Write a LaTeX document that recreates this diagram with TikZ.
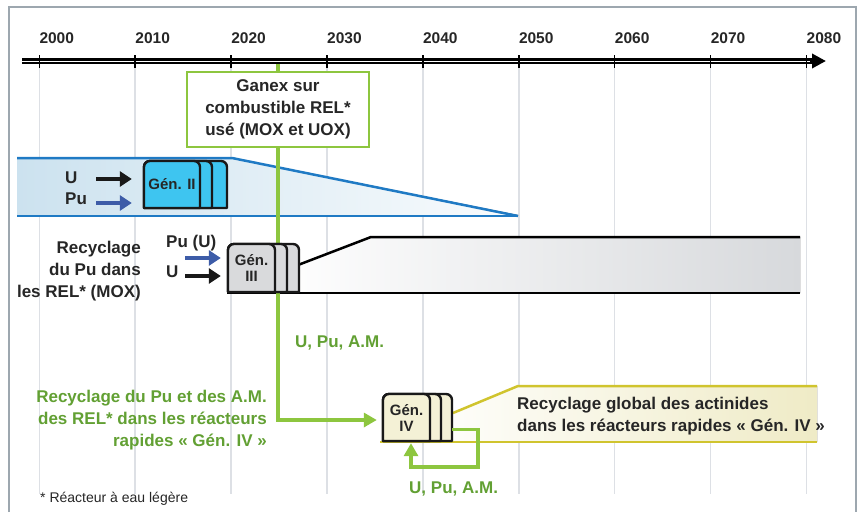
\documentclass[tikz,border=0pt]{standalone}
\usepackage{fontspec}
\setmainfont{Liberation Sans}
\usetikzlibrary{arrows.meta}
\definecolor{framegray}{HTML}{9DA7AF}
\definecolor{gridgray}{HTML}{DDE0E5}
\definecolor{txtdark}{HTML}{262626}
\definecolor{txtgreen}{HTML}{62A033}
\definecolor{linegreen}{HTML}{8DC63F}
\definecolor{bandblue}{HTML}{CCE2EF}
\definecolor{lineblue}{HTML}{1F7AC4}
\definecolor{arrowblue}{HTML}{3D5CA8}
\definecolor{gentwo}{HTML}{3EC5F0}
\definecolor{genthree}{HTML}{D9DADC}
\definecolor{bandgray}{HTML}{D7D9DC}
\definecolor{genfour}{HTML}{F4F1D6}
\definecolor{bandcream}{HTML}{EFEBC6}
\definecolor{lineyellow}{HTML}{D0C42E}
\newcommand{\reactor}[9]{%
	\foreach \lw in {#6,#5,#4}
		\draw[reactorline, fill=#8] (#2,#3+#7) -- (#2,#3+6) arc[start angle=180, end angle=90, radius=6pt] -- (#2+\lw-6,#3) arc[start angle=90, end angle=0, radius=6pt] -- (#2+\lw,#3+#7) -- cycle;
	\node[gentxt, minimum width=#4pt, minimum height=#7pt] (#1) at (#2+#4/2,#3+#7/2) {#9};
	\coordinate (#1-back) at (#2+#6,#3+#7/2);
}
\begin{document}
\begin{tikzpicture}[x=1pt,y=-1pt,
	lbl/.style={font=\fontsize{17}{22}\selectfont\bfseries, text=txtdark, inner sep=0pt},
	glbl/.style={lbl, text=txtgreen},
	yearlbl/.style={font=\fontsize{15.5}{18}\selectfont\bfseries, text=txtdark, inner sep=0pt, anchor=base west},
	gentxt/.style={font=\fontsize{15}{16}\selectfont\bfseries, text=txtdark, align=center, inner sep=0pt},
	reactorline/.style={line width=2.4pt, draw=black!90, line join=round},
	gridline/.style={gridgray, line width=1.5pt},
	bandline/.style={line width=2.5pt},
	flow/.style={linegreen, line width=3.8pt, -{Triangle[length=13pt,width=14pt]}},
	feed/.style={line width=4.5pt, -{Triangle[length=12pt,width=15pt]}}]
		\useasboundingbox (0,0) rectangle (861,512);
		\draw[framegray, line width=1.5pt] (9,512) -- (9,7) -- (856,7) -- (856,512);
		\foreach \i in {0,...,8}
			\draw[gridline] (39.3+95.9*\i,64) -- (39.3+95.9*\i,494);
		\fill[left color=bandblue, right color=bandblue!12] (17,158) -- (232,158) -- (518,215) -- (518,216) -- (17,216) -- cycle;
		\draw[bandline, lineblue] (17,158) -- (232,158) -- (518,216);
		\draw[bandline, lineblue] (17,216) -- (518,216);
		\fill[left color=white!95!bandgray, right color=bandgray] (298,265) -- (371,237) -- (800,237) -- (800,293) -- (298,293) -- cycle;
		\draw[bandline] (298,265) -- (371,237) -- (800,237);
		\draw[bandline] (227,293) -- (800,293);
		\fill[left color=white!90!bandcream, right color=bandcream] (453,413) -- (518,386) -- (817,386) -- (817,442) -- (453,442) -- cycle;
		\draw[bandline, lineyellow] (453,413) -- (518,386) -- (817,386);
		\draw[bandline, lineyellow] (380,442) -- (817,442);
		\reactor{gen4}{383}{394}{47}{58}{69}{47}{genfour}{Gén.\\IV}
		\coordinate (gx) at (278,61);
		\draw[flow, shorten >=6pt] (gx) |- ([yshift=-2.5pt]gen4.west);
		\node[lbl, draw=linegreen, line width=2.5pt, fill=white, align=center, minimum width=182pt, minimum height=75pt] (ganex) at (278,109.5) {Ganex sur\\combustible REL*\\usé (MOX et UOX)};
		\draw[line width=5.5pt, -{Triangle[length=14pt,width=14pt]}] (22,61) -- (826,61);
		\draw[white, line width=1pt] (22,61) -- (810,61);
		\foreach \i [evaluate=\i as \yr using int(2000+10*\i)] in {0,...,8}{
			\draw[line width=1.5pt] (39.3+95.9*\i,55) -- (39.3+95.9*\i,68);
			\node[yearlbl] (y\yr) at (39.3+95.9*\i,43) {\yr};
		}
		\reactor{gen2}{144}{161}{56}{68}{83}{47}{gentwo}{Gén. II}
		\reactor{gen3}{228}{244}{47}{59}{71}{48}{genthree}{Gén.\\III}
		\node[lbl, anchor=base west] (u2) at (65,183) {U};
		\node[lbl, anchor=base west] (pu2) at (65,204) {Pu};
		\coordinate (u2in) at (96,179);
		\coordinate (pu2in) at (96,203);
		\draw[feed, black!90, shorten >=12pt] (u2in) -- (u2in -| gen2.west);
		\draw[feed, arrowblue, shorten >=12pt] (pu2in) -- (pu2in -| gen2.west);
		\node[lbl, anchor=base west] (pu3) at (166,247) {Pu (U)};
		\node[lbl, anchor=base west] (u3) at (166,277) {U};
		\coordinate (pu3in) at (185,258);
		\coordinate (u3in) at (185,276);
		\draw[feed, arrowblue, shorten >=7pt] (pu3in) -- (pu3in -| gen3.west);
		\draw[feed, black!90, shorten >=7pt] (u3in) -- (u3in -| gen3.west);
		\node[lbl, align=right, anchor=north east] (mox) at (141,241) {Recyclage\\du Pu dans\\les REL* (MOX)};
		\node[glbl, anchor=base west] (flow1) at (295,347) {U, Pu, A.M.};
		\node[glbl, align=right, anchor=north east] (fast) at (267,389.5) {Recyclage du Pu et des A.M.\\des REL* dans les réacteurs\\rapides « Gén. IV »};
		\node[lbl, align=left, anchor=north west] (global) at (517,396.5) {Recyclage global des actinides\\dans les réacteurs rapides « Gén. IV »};
		\coordinate (loopc) at (478,467);
		\draw[flow, shorten >=2pt] ([yshift=-12pt]gen4-back) -| (loopc) -| ([xshift=4.5pt]gen4.south);
		\node[glbl, anchor=base west] (flow2) at (409,493) {U, Pu, A.M.};
		\node[font=\fontsize{14}{16}\selectfont, text=txtdark, inner sep=0pt, anchor=base west] (note) at (40,502) {* Réacteur à eau légère};
	\end{tikzpicture}
\end{document}
